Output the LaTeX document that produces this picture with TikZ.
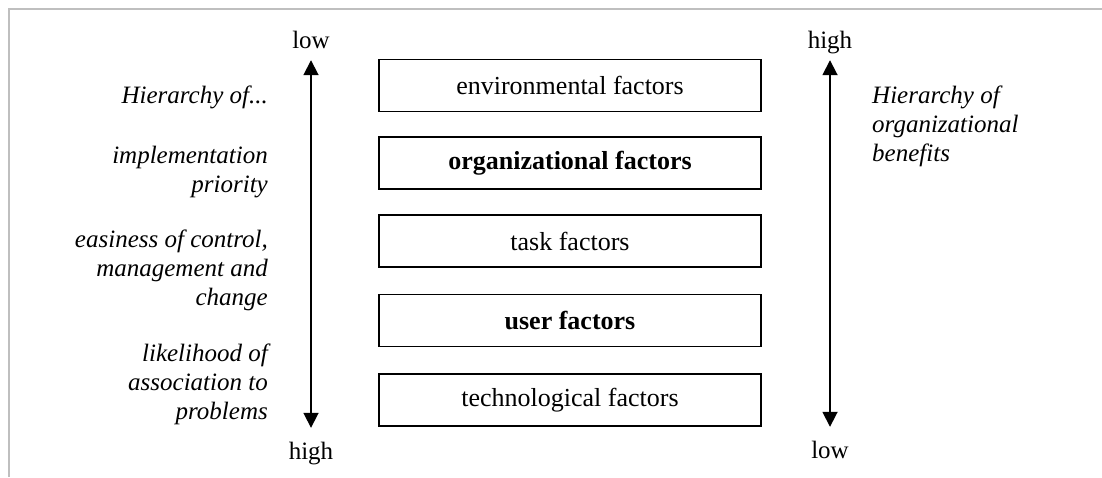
\documentclass[tikz,border=0pt]{standalone}
\usepackage{fontspec}
\setmainfont{Liberation Serif}
\usetikzlibrary{arrows.meta}
\begin{document}
\begin{tikzpicture}[x=1pt,y=-1pt,
  txt/.style={inner sep=0pt, font=\fontsize{25}{29}\selectfont},
  factor/.style={txt, font=\fontsize{26}{29}\selectfont, draw, line width=1.8pt, minimum width=382pt, minimum height=52pt},
  scalelabel/.style={txt, text height=17pt, text depth=0pt, anchor=base},
  axis/.style={line width=1.8pt, {Triangle[width=15pt,length=15pt]}-{Triangle[width=15pt,length=15pt]},
    shorten <=12pt, shorten >=14pt},
  note/.style={txt, font=\fontsize{25}{29}\selectfont\itshape},
  frame/.style={draw=black!25, line width=2pt}]
\useasboundingbox (0,0) rectangle (1102,477);
% page frame
\draw[frame] (9,477) -- (9,9) -- (1102,9);

% stack of factor boxes
\node[factor] (env)  at (570,85.5) {environmental factors};
\node[factor] (org)  at (570,163)  {\bfseries organizational factors};
\node[factor] (task) at (570,241)  {task factors};
\node[factor] (user) at (570,320.5){\bfseries user factors};
\node[factor] (tech) at (570,400)  {technological factors};

% left scale
\node[scalelabel] (lowL)  at (311,48)  {low};
\node[scalelabel] (highL) at (311,459) {high};
\draw[axis] (lowL) -- (highL);

% right scale
\node[scalelabel] (highR) at (830,48)  {high};
\node[scalelabel] (lowR)  at (830,458) {low};
\draw[axis] (highR) -- (lowR);

% left annotations (multi-line nodes sit on the baseline of their last line)
\node[note, anchor=base east] (hier) at (268,103) {Hierarchy of...};
\node[note, anchor=base east, align=right] (impl) at (268,192)
  {implementation\\priority};
\node[note, anchor=base east, align=right] (ease) at (268,305)
  {easiness of control,\\management and\\change};
\node[note, anchor=base east, align=right] (like) at (268,419)
  {likelihood of\\association to\\problems};

% right annotation
\node[note, anchor=base west, align=left] (bene) at (872,161)
  {Hierarchy of\\organizational\\benefits};
\end{tikzpicture}
\end{document}
